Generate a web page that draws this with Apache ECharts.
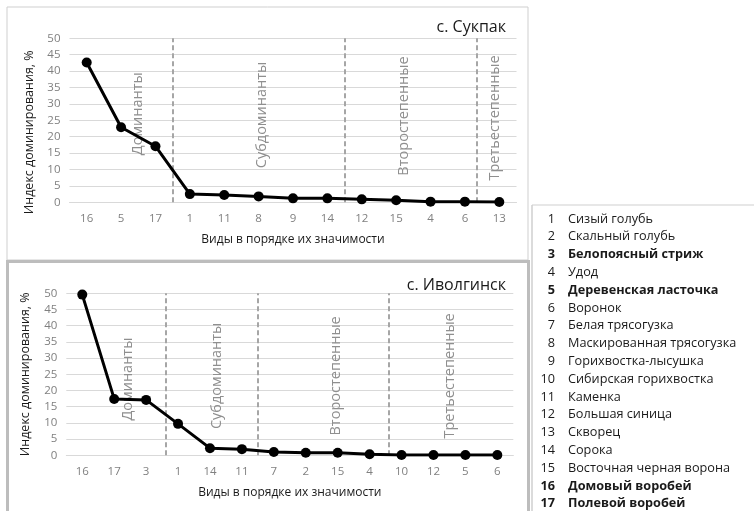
<!DOCTYPE html>
<html><head><meta charset="utf-8">
<script src="https://cdn.jsdelivr.net/npm/echarts@6/dist/echarts.min.js"></script>
<style>html,body{margin:0;padding:0;background:#fff}#c{width:754px;height:511px}</style>
</head><body><div id="c"></div>
<script>
// ---- data ----
const titleTop = 'с. Сукпак';
const titleBottom = 'с. Иволгинск';
const catsTop = ['16','5','17','1','11','8','9','14','12','15','4','6','13'];
const valsTop = [42.6, 22.9, 17.1, 2.5, 2.2, 1.8, 1.2, 1.2, 0.9, 0.6, 0.2, 0.2, 0.1];
const catsBottom = ['16','17','3','1','14','11','7','2','15','4','10','12','5','6'];
const valsBottom = [49.6, 17.4, 17.1, 9.7, 2.2, 1.9, 1.0, 0.8, 0.8, 0.3, 0.1, 0.1, 0.1, 0.1];
const zoneNames = ['Доминанты','Субдоминанты','Второстепенные','Третьестепенные'];
// divider positions and zone-label positions in category units (0 = left edge of plot)
const dividersTop = [3, 8, 11.85];
const zoneXTop = [1.99, 5.6, 9.73, 12.38];
const zoneYTop = [27.0, 26.6, 26.3, 25.7];
const dividersBottom = [3.1, 6, 10.1];
const zoneXBottom = [1.92, 4.73, 8.45, 12.0];
const zoneYBottom = [23.5, 24.5, 24.5, 24.5];
const yTicks = {min: 0, max: 50, interval: 5};
const yName = 'Индекс доминирования, %';
const xName = 'Виды в порядке их значимости';
const speciesNames = ['Сизый голубь','Скальный голубь','Белопоясный стриж','Удод','Деревенская ласточка','Воронок','Белая трясогузка','Маскированная трясогузка','Горихвостка-лысушка','Сибирская горихвостка','Каменка','Большая синица','Скворец','Сорока','Восточная черная ворона','Домовый воробей','Полевой воробей'];
const boldSpecies = [3, 5, 16, 17];

// ---- chart ----
const FONT = "'Open Sans', 'Noto Sans', sans-serif";
const chart = echarts.init(document.getElementById('c'), null, {renderer: 'canvas'});

const grids = [
  {left: 69.5, top: 38.3, width: 447, height: 164},
  {left: 66.3, top: 293.3, width: 447, height: 162}
];

function yAxis(i, pad) {
  return {
    type: 'value', gridIndex: i, min: yTicks.min, max: yTicks.max, interval: yTicks.interval,
    axisLine: {show: false}, axisTick: {show: false},
    axisLabel: {color: '#808080', fontSize: 11.5, fontFamily: FONT, margin: 9},
    splitLine: {lineStyle: {color: '#d9d9d9', width: 1}},
    name: yName, nameLocation: 'middle', nameRotate: 90, nameGap: 34,
    nameTextStyle: {color: '#1a1a1a', fontSize: 12.5, fontFamily: FONT, padding: pad}
  };
}
function xCat(i, cats) {
  return {
    type: 'category', gridIndex: i, data: cats, boundaryGap: true,
    axisLine: {show: true, lineStyle: {color: '#d9d9d9'}}, axisTick: {show: false},
    axisLabel: {color: '#808080', fontSize: 11.5, fontFamily: FONT, margin: 10},
    name: xName, nameLocation: 'middle', nameGap: 31,
    nameTextStyle: {color: '#1a1a1a', fontSize: 12, fontFamily: FONT}
  };
}
function xVal(i, n) {
  return {type: 'value', gridIndex: i, min: 0, max: n, show: false};
}

function lineSeries(xi, yi, vals) {
  return {
    type: 'line', xAxisIndex: xi, yAxisIndex: yi, data: vals,
    symbol: 'circle', symbolSize: 10, showSymbol: true,
    lineStyle: {color: '#000', width: 3}, itemStyle: {color: '#000'},
    silent: true, z: 5
  };
}
function dividerSeries(xi, yi, divs) {
  return {
    type: 'line', xAxisIndex: xi, yAxisIndex: yi, data: [], silent: true,
    markLine: {
      symbol: 'none', silent: true, label: {show: false},
      lineStyle: {color: '#a6a6a6', type: [5, 3], width: 2},
      data: divs.map(v => ({xAxis: v}))
    }
  };
}
function zoneSeries(xi, yi, xs, ys) {
  return {
    type: 'custom', xAxisIndex: xi, yAxisIndex: yi, silent: true,
    data: xs.map((x, k) => [x, ys[k]]),
    renderItem: function (params, api) {
      const p = api.coord([api.value(0), api.value(1)]);
      return {
        type: 'text', x: p[0], y: p[1], rotation: Math.PI / 2,
        style: {text: zoneNames[params.dataIndex], align: 'center', verticalAlign: 'middle',
          fill: '#8f8f8f', font: '14.5px ' + FONT}
      };
    }
  };
}

const graphics = [
  {type: 'rect', shape: {x: 7, y: 7, width: 521, height: 253}, style: {fill: 'none', stroke: '#cfcfcf', lineWidth: 1}, silent: true},
  {type: 'rect', shape: {x: 7.5, y: 261.5, width: 521, height: 260}, style: {fill: 'none', stroke: '#bdbdbd', lineWidth: 3}, silent: true},
  {type: 'line', shape: {x1: 532, y1: 205, x2: 760, y2: 205}, style: {stroke: '#cfcfcf', lineWidth: 1}, silent: true},
  {type: 'line', shape: {x1: 532, y1: 205, x2: 532, y2: 520}, style: {stroke: '#cfcfcf', lineWidth: 1.5}, silent: true}
];
speciesNames.forEach((nm, i) => {
  const n = i + 1;
  const bold = boldSpecies.includes(n);
  const y = 219 + i * 17.8;
  const font = (bold ? 'bold ' : '') + '12.7px ' + FONT;
  graphics.push({type: 'text', x: 555, y: y, silent: true,
    style: {text: String(n), textAlign: 'right', textVerticalAlign: 'middle', fill: '#1a1a1a', font: font}});
  graphics.push({type: 'text', x: 568, y: y, silent: true,
    style: {text: nm, textAlign: 'left', textVerticalAlign: 'middle', fill: '#1a1a1a', font: font}});
});

chart.setOption({
  animation: false,
  backgroundColor: '#fff',
  title: [
    {text: titleTop, right: 243, top: 14, textStyle: {color: '#1a1a1a', fontSize: 16, fontWeight: 'normal', fontFamily: FONT}},
    {text: titleBottom, right: 243, top: 272, textStyle: {color: '#1a1a1a', fontSize: 16, fontWeight: 'normal', fontFamily: FONT}}
  ],
  grid: grids,
  xAxis: [xCat(0, catsTop), xCat(1, catsBottom), xVal(0, catsTop.length), xVal(1, catsBottom.length)],
  yAxis: [yAxis(0, [0, 24, 0, 0]), yAxis(1, 0)],
  series: [
    dividerSeries(2, 0, dividersTop),
    dividerSeries(3, 1, dividersBottom),
    zoneSeries(2, 0, zoneXTop, zoneYTop),
    zoneSeries(3, 1, zoneXBottom, zoneYBottom),
    lineSeries(0, 0, valsTop),
    lineSeries(1, 1, valsBottom)
  ],
  graphic: graphics
});
</script></body></html>
